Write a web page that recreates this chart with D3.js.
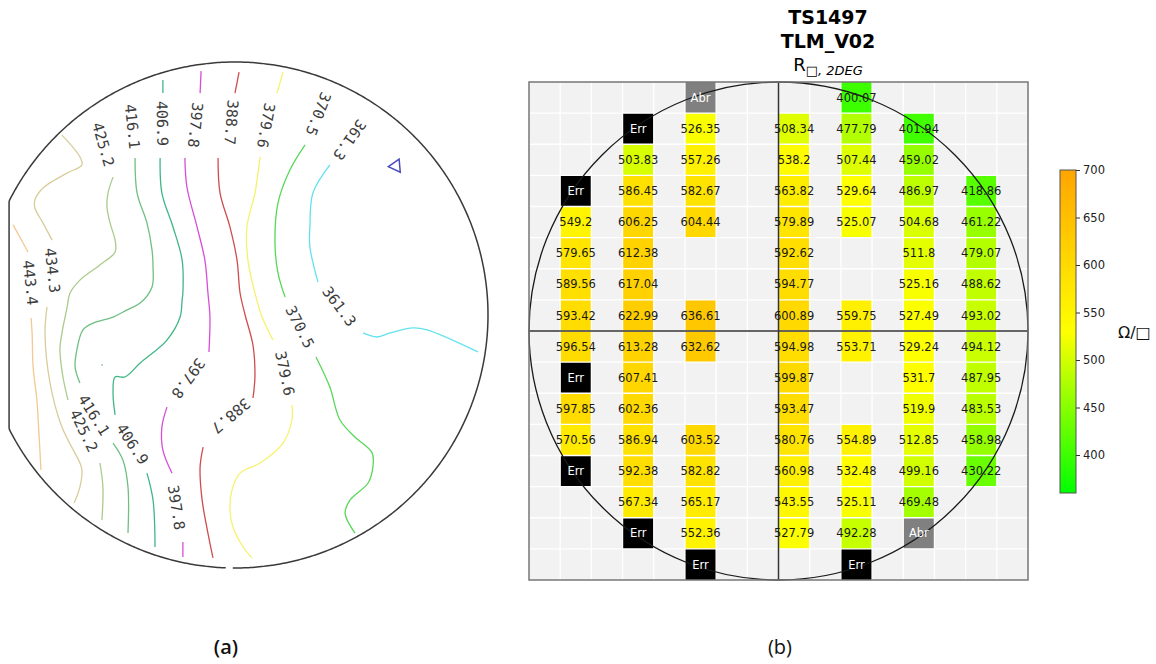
<!DOCTYPE html>
<html><head><meta charset="utf-8">
<script src="https://cdn.jsdelivr.net/npm/d3@7"></script>
<style>body{margin:0;background:#fff} svg{display:block}</style>
</head><body>
<svg id="chart" width="1156" height="664"></svg>
<script>
// ================= DATA =================
// (a) contour map, wafer coordinates (mm, radius 100)
const contourLevels = [361.3, 370.5, 379.6, 388.7, 397.8, 406.9, 416.1, 425.2, 434.3, 443.4];
const contourColors = ["#62e2ee", "#58d858", "#f6f26c", "#d04c4c", "#d84ed8", "#3fb686", "#6fbf82", "#a9cc8c", "#d9cc9a", "#f3c894"];
const line361 = [
  [[37.5,59.3],[30.8,48.2],[29.6,34.8],[29.6,26.9],[32.8,13.0]],
  [[50.6,-7.1],[56.1,-8.7],[61.3,-7.1],[70.4,-5.1],[75.9,-5.9],[96.0,-14.6]]
];
const line370 = [
  [[27.7,67.2],[21.7,57.3],[17.0,44.3],[15.8,28.5],[17.0,16.6],[19.8,7.1]],
  [[32.0,-16.6],[37.5,-28.5],[41.5,-41.5],[47.4,-48.2],[54.2,-54.5],[54.5,-60.1],[52.6,-66.4],[45.5,-73.1],[43.5,-78.3],[47.4,-86.2]]
];
const line379 = [
  [[19.0,96.0],[16.6,87.7]],
  [[9.9,62.5],[7.9,48.2],[4.7,34.8],[5.1,21.7],[7.9,8.7],[10.7,-0.8],[15.0,-9.9]],
  [[22.5,-35.6],[22.5,-41.5],[19.0,-50.6],[9.9,-58.5],[2.0,-62.5],[-1.2,-69.2],[-2.0,-77.1],[-0.8,-83.8],[3.2,-91.7],[6.7,-96.0]]
];
const line388 = [
  [[1.6,96.0],[0,87.7]],
  [[-6.7,62.1],[-5.9,48.2],[-2.0,34.8],[0.8,21.7],[2.0,8.7],[4.0,0],[7.1,-11.9],[7.9,-23.7],[7.5,-29.6],[7.1,-32.8]],
  [[-12.6,-52.2],[-13.8,-60.1],[-13.0,-73.1],[-10.7,-86.2],[-8.7,-96.0]]
];
const line397 = [
  [[-13.4,96.4],[-13.8,87.7]],
  [[-19.8,62.1],[-19.0,50.6],[-15.0,34.8],[-11.9,21.7],[-10.7,8.7],[-9.9,-0.8],[-10.3,-14.6]],
  [[-26.9,-36.4],[-28.9,-44.3],[-28.5,-53.4],[-24.9,-62.5]],
  [[-20.6,-89.7],[-20.6,-95.7]]
];
const line406 = [
  [[-28.5,92.9],[-28.5,87.7]],
  [[-29.6,62.1],[-28.9,48.2],[-24.5,34.8],[-20.9,21.7],[-20.6,8.7],[-20.9,5.9],[-21.7,-0.8],[-26.9,-9.9],[-37.5,-19.0],[-43.5,-24.5],[-47.4,-24.5],[-48.2,-30.8],[-47.4,-39.5]],
  [[-34.8,-62.5],[-32.4,-73.1],[-31.6,-91.7]]
];
const line416 = [
  [[-39.5,62.1],[-38.7,48.2],[-34.8,36.4],[-32.8,25.7],[-32.4,19.0],[-32.8,11.1],[-37.5,4.7],[-42.7,2.0],[-48.2,-0.8],[-56.1,-3.2],[-60.1,-5.9],[-62.5,-13.8],[-63.2,-20.6],[-61.3,-26.9]],
  [[-48.2,-50.6],[-44.3,-57.3],[-42.3,-68.0],[-42.3,-86.2]],
  [[-52.8,-19.5],[-52.3,-20.0]]
];
const line425 = [
  [[-48.2,54.5],[-50.2,48.2],[-50.6,42.7],[-49.4,36.4],[-47.4,29.6],[-47.4,24.9],[-53.4,19.8],[-61.3,13.8],[-65.2,8.7],[-66.4,2.8],[-68.4,-7.1],[-69.2,-13.8],[-68.0,-24.5],[-66.0,-33.6]],
  [[-53.4,-58.5],[-52.2,-68.0],[-52.6,-81.0]]
];
const line434 = [
  [[-68.4,71.1],[-61.3,62.5],[-60.5,59.3],[-66.4,56.1],[-75.9,50.2],[-79.1,45.5],[-79.1,42.3],[-75.9,36.4],[-72.3,29.6]],
  [[-74.3,3.2],[-75.1,-7.1],[-73.1,-26.9],[-68.4,-44.3],[-61.3,-58.5],[-60.5,-61.3],[-61.3,-68.0],[-63.6,-74.3]]
];
const line443 = [
  [[-87.7,35.6],[-81.8,24.9]],
  [[-80.6,-1.2],[-80.2,-7.1],[-79.8,-20.6],[-78.3,-33.6],[-77.5,-46.6],[-76.7,-61.3]]
];
const contourLines = [line361, line370, line379, line388, line397, line406, line416, line425, line434, line443];
const contourLabels = [
  {v:"425.2", x:-52.0, y:67.4, a:74}, {v:"416.1", x:-40.5, y:74.5, a:84},
  {v:"406.9", x:-28.7, y:75.7, a:89}, {v:"397.8", x:-15.6, y:75.1, a:96},
  {v:"388.7", x:-1.4, y:76.1, a:94},  {v:"379.6", x:12.3, y:74.9, a:100},
  {v:"370.5", x:33.0, y:79.4, a:111}, {v:"361.3", x:45.3, y:69.2, a:125},
  {v:"434.3", x:-72.1, y:17.6, a:84}, {v:"443.4", x:-80.8, y:12.8, a:84},
  {v:"416.1", x:-55.7, y:-39.5, a:58}, {v:"425.2", x:-59.7, y:-45.7, a:64},
  {v:"406.9", x:-40.5, y:-51.0, a:57}, {v:"397.8", x:-23.1, y:-76.1, a:81},
  {v:"397.8", x:-18.4, y:-25.1, a:126}, {v:"388.7", x:-1.6, y:-39.9, a:140},
  {v:"379.6", x:19.8, y:-23.1, a:78},  {v:"370.5", x:25.7, y:-4.7, a:63},
  {v:"361.3", x:41.3, y:3.4, a:53}
];
const markerPos = [63.6, 58.9];
const waferFlatX = -89.3;

// (b) wafer map: die columns, each with 16 rows (top to bottom)
const dieColumns = [1, 3, 5, 8, 10, 12, 14];
const col1  = [null,null,null,"Err",549.2,579.65,589.56,593.42,596.54,"Err",597.85,570.56,"Err",null,null,null];
const col3  = [null,"Err",503.83,586.45,606.25,612.38,617.04,622.99,613.28,607.41,602.36,586.94,592.38,567.34,"Err",null];
const col5  = ["Abr",526.35,557.26,582.67,604.44,null,null,636.61,632.62,null,null,603.52,582.82,565.17,552.36,"Err"];
const col8  = [null,508.34,538.2,563.82,579.89,592.62,594.77,600.89,594.98,599.87,593.47,580.76,560.98,543.55,527.79,null];
const col10 = [400.07,477.79,507.44,529.64,525.07,null,null,559.75,553.71,null,null,554.89,532.48,525.11,492.28,"Err"];
const col12 = [null,401.94,459.02,486.97,504.68,511.8,525.16,527.49,529.24,531.7,519.9,512.85,499.16,469.48,"Abr",null];
const col14 = [null,null,null,418.86,461.22,479.07,488.62,493.02,494.12,487.95,483.53,458.98,430.22,null,null,null];
const dieValues = [col1, col3, col5, col8, col10, col12, col14];
const colorDomain = [360, 530, 700];
const colorStops = ["#00ff00", "#ffff00", "#ffa500"];
const cbTicks = [400, 450, 500, 550, 600, 650, 700];
const titleLines = ["TS1497", "TLM_V02"];

// ================= DRAW =================
const svg = d3.select("#chart");
const FONT = "'DejaVu Sans', sans-serif";

// ---- (a) ----
const wx = d3.scaleLinear().domain([-100, 100]).range([-18, 488]);
const wy = d3.scaleLinear().domain([-100, 100]).range([568, 62]);
const line = d3.line().x(d => wx(d[0])).y(d => wy(d[1])).curve(d3.curveCatmullRom.alpha(0.5));

const outlinePts = d3.range(269.5, 627.9, 0.5).concat([627.9]).map(t => {
  const r = t * Math.PI / 180;
  return [Math.max(100 * Math.cos(r), waferFlatX), 100 * Math.sin(r)];
});
svg.append("path").attr("d", d3.line().x(d => wx(d[0])).y(d => wy(d[1]))(outlinePts))
  .attr("fill", "none").attr("stroke", "#3a3a3a").attr("stroke-width", 1.5);

const gA = svg.append("g");
contourLines.forEach((segs, i) => {
  gA.selectAll(null).data(segs).enter().append("path")
    .attr("d", line).attr("fill", "none")
    .attr("stroke", contourColors[i]).attr("stroke-width", 1.3);
});
gA.selectAll("text.cl").data(contourLabels).enter().append("text")
  .attr("class", "cl")
  .attr("transform", d => `translate(${wx(d.x)},${wy(d.y)}) rotate(${d.a})`)
  .attr("text-anchor", "middle").attr("dy", "0.36em")
  .attr("font-family", "'DejaVu Sans Mono', monospace").attr("font-size", 15)
  .attr("fill", "#3c3c3c").text(d => d.v);

svg.append("path")
  .attr("d", d3.symbol().type(d3.symbolTriangle).size(75)())
  .attr("transform", `translate(${wx(markerPos[0])},${wy(markerPos[1])}) rotate(-95)`)
  .attr("fill", "none").attr("stroke", "#4b4bc0").attr("stroke-width", 1.5);

svg.append("text").attr("x", 226).attr("y", 654).attr("text-anchor", "middle")
  .attr("font-family", "'Open Sans', sans-serif").attr("font-size", 20).attr("font-weight", 600)
  .attr("fill", "#111").text("(a)");

// ---- (b) ----
const gx = d3.scaleLinear().domain([0, 16]).range([529, 1028]);
const gy = d3.scaleLinear().domain([0, 16]).range([82, 580]);
const color = d3.scaleLinear().domain(colorDomain).range(colorStops);
const gB = svg.append("g");
gB.append("rect").attr("x", gx(0)).attr("y", gy(0)).attr("width", gx(16) - gx(0)).attr("height", gy(16) - gy(0))
  .attr("fill", "#f2f2f2");

const cells = [];
dieColumns.forEach((c, ci) => dieValues[ci].forEach((v, r) => { if (v !== null) cells.push({c, r, v}); }));
const fillOf = v => v === "Err" ? "#000" : v === "Abr" ? "#808080" : color(v);
gB.selectAll("rect.cell").data(cells).enter().append("rect").attr("class", "cell")
  .attr("x", d => gx(d.c)).attr("y", d => gy(d.r))
  .attr("width", gx(1) - gx(0)).attr("height", gy(1) - gy(0))
  .attr("fill", d => fillOf(d.v));

// grid lines
const idx = d3.range(1, 16);
gB.selectAll("line.vg").data(idx).enter().append("line")
  .attr("x1", d => gx(d)).attr("x2", d => gx(d)).attr("y1", gy(0)).attr("y2", gy(16))
  .attr("stroke", "#fff").attr("stroke-width", 1.3);
gB.selectAll("line.hg").data(idx).enter().append("line")
  .attr("y1", d => gy(d)).attr("y2", d => gy(d)).attr("x1", gx(0)).attr("x2", gx(16))
  .attr("stroke", "#fff").attr("stroke-width", 1.3);

// crosshair & wafer circle
gB.append("line").attr("x1", gx(8)).attr("x2", gx(8)).attr("y1", gy(0)).attr("y2", gy(16))
  .attr("stroke", "#333").attr("stroke-width", 1.5);
gB.append("line").attr("y1", gy(8)).attr("y2", gy(8)).attr("x1", gx(0)).attr("x2", gx(16))
  .attr("stroke", "#333").attr("stroke-width", 1.5);
gB.append("ellipse").attr("cx", gx(8)).attr("cy", gy(8))
  .attr("rx", gx(16) - gx(8)).attr("ry", gy(16) - gy(8))
  .attr("fill", "none").attr("stroke", "#1a1a1a").attr("stroke-width", 1.3);

// texts
gB.selectAll("text.val").data(cells).enter().append("text")
  .attr("x", d => gx(d.c + 0.5)).attr("y", d => gy(d.r + 0.5)).attr("dy", "0.36em")
  .attr("text-anchor", "middle").attr("font-family", FONT).attr("font-size", 11.5)
  .attr("fill", d => (d.v === "Err" || d.v === "Abr") ? "#fff" : "#1a1a1a")
  .text(d => String(d.v));

// frame
gB.append("rect").attr("x", gx(0)).attr("y", gy(0)).attr("width", gx(16) - gx(0)).attr("height", gy(16) - gy(0))
  .attr("fill", "none").attr("stroke", "#777").attr("stroke-width", 1.5);

// title
const tx = 828;
svg.selectAll("text.title").data(titleLines).enter().append("text")
  .attr("x", tx).attr("y", (d, i) => 24 + i * 23.5).attr("text-anchor", "middle")
  .attr("font-family", FONT).attr("font-weight", "bold").attr("font-size", 19).attr("fill", "#000")
  .text(d => d);
const sub = svg.append("text").attr("x", tx).attr("y", 71).attr("text-anchor", "middle")
  .attr("font-family", FONT).attr("font-size", 18).attr("fill", "#000");
sub.append("tspan").text("R");
sub.append("tspan").attr("dy", 4).attr("font-size", 13).text("□");
sub.append("tspan").attr("font-size", 13).attr("font-style", "italic").text(", 2DEG");

// colorbar
const cbScale = d3.scaleLinear().domain([colorDomain[0], colorDomain[2]]).range([493, 170]);
const defs = svg.append("defs");
const grad = defs.append("linearGradient").attr("id", "cbg").attr("x1", 0).attr("y1", 1).attr("x2", 0).attr("y2", 0);
grad.selectAll("stop").data(colorDomain).enter().append("stop")
  .attr("offset", d => (d - colorDomain[0]) / (colorDomain[2] - colorDomain[0]))
  .attr("stop-color", (d, i) => colorStops[i]);
svg.append("rect").attr("x", 1060).attr("y", 170).attr("width", 16).attr("height", 323)
  .attr("fill", "url(#cbg)").attr("stroke", "#555").attr("stroke-width", 1);
const cbAxis = svg.append("g").attr("transform", "translate(1076,0)")
  .call(d3.axisRight(cbScale).tickValues(cbTicks).tickSize(4).tickPadding(3));
cbAxis.select(".domain").remove();
cbAxis.selectAll("line").attr("stroke", "#333");
cbAxis.selectAll("text").attr("font-family", FONT).attr("font-size", 11.5).attr("fill", "#222");
svg.append("text").attr("x", 1118).attr("y", 338).attr("font-family", FONT).attr("font-size", 16)
  .attr("fill", "#111").text("Ω/□");

svg.append("text").attr("x", 780).attr("y", 654).attr("text-anchor", "middle")
  .attr("font-family", "'Open Sans', sans-serif").attr("font-size", 20)
  .attr("fill", "#111").text("(b)");
</script>
</body></html>
